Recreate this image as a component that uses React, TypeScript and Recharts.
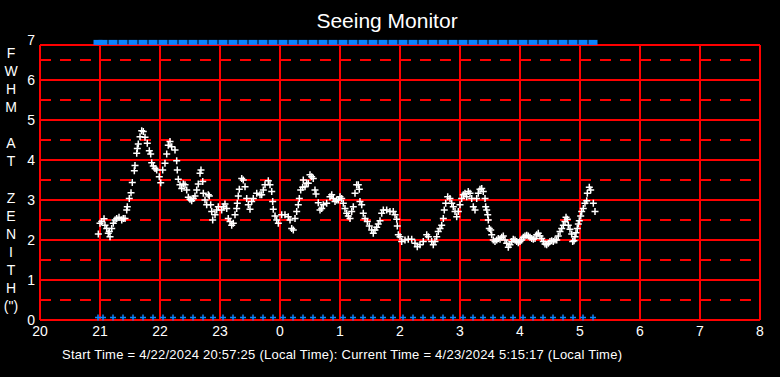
import React from 'react';
import { ScatterChart, Scatter, XAxis, YAxis, ReferenceLine } from 'recharts';

// hours on a running clock (after midnight = 24 + h)
const xTicks = [20, 21, 22, 23, 24, 25, 26, 27, 28, 29, 30, 31, 32];
const yTicks = [0, 1, 2, 3, 4, 5, 6, 7];
const hourLines = [21, 22, 23, 24, 25, 26, 27, 28, 29, 30, 31];
const solidRows = [1, 2, 3, 4, 5, 6];
const dashedRows = [0.5, 1.5, 2.5, 3.5, 4.5, 5.5, 6.5];
const frameTop = 6.875;
const topMarkerLevel = 6.94;
const bottomMarkerLevel = 0.06;

const yLabelLetters = ['F', 'W', 'H', 'M', '', 'A', 'T', '', 'Z', 'E', 'N', 'I', 'T', 'H', '(")'];

// sample times (local clock) of the blue status markers
const markerTimes = [
  '20:58', '21:03', '21:13', '21:23', '21:33', '21:43', '21:53',
  '22:03', '22:13', '22:23', '22:33', '22:43', '22:53',
  '23:03', '23:13', '23:23', '23:33', '23:43', '23:53',
  '00:03', '00:13', '00:23', '00:33', '00:43', '00:53',
  '01:03', '01:13', '01:23', '01:33', '01:43', '01:53',
  '02:03', '02:13', '02:23', '02:33', '02:43', '02:53',
  '03:03', '03:13', '03:23', '03:33', '03:43', '03:53',
  '04:03', '04:13', '04:23', '04:33', '04:43', '04:53',
  '05:03', '05:13',
];

// [hour, FWHM arcsec]
const seeingPoints: [number, number][] = [
  [20.972, 2.15], [21.0, 2.42], [21.028, 2.46], [21.067, 2.53], [21.083, 2.37], [21.112, 2.29], [21.138, 2.17], [21.155, 2.21], [21.167, 2.08], [21.195, 2.29],
  [21.222, 2.42], [21.25, 2.5], [21.278, 2.54], [21.317, 2.57], [21.362, 2.5], [21.388, 2.54], [21.417, 2.54], [21.445, 2.75], [21.455, 2.83], [21.488, 3.04],
  [21.517, 3.18], [21.538, 3.44], [21.572, 3.73], [21.583, 3.86], [21.612, 4.17], [21.622, 4.29], [21.638, 4.4], [21.667, 4.58], [21.695, 4.73], [21.722, 4.71],
  [21.75, 4.57], [21.788, 4.42], [21.822, 4.23], [21.845, 4.15], [21.862, 3.93], [21.888, 3.85], [21.917, 3.79], [21.945, 3.75], [21.988, 3.58], [22.012, 3.43],
  [22.045, 3.75], [22.083, 3.92], [22.112, 4.15], [22.138, 4.37], [22.167, 4.46], [22.195, 4.33], [22.25, 4.25], [22.278, 3.98], [22.288, 3.75], [22.305, 3.52],
  [22.333, 3.38], [22.362, 3.29], [22.388, 3.4], [22.417, 3.38], [22.445, 3.25], [22.472, 3.07], [22.5, 3.02], [22.528, 2.98], [22.555, 3.04], [22.583, 3.1],
  [22.612, 3.25], [22.638, 3.4], [22.667, 3.67], [22.683, 3.75], [22.712, 3.46], [22.722, 3.17], [22.75, 3.0], [22.778, 2.88], [22.805, 3.13], [22.822, 3.1],
  [22.845, 2.88], [22.862, 2.71], [22.878, 2.5], [22.917, 2.63], [22.945, 2.75], [22.972, 2.83], [23.028, 2.75], [23.055, 2.83], [23.083, 2.9], [23.112, 2.79],
  [23.138, 2.54], [23.167, 2.46], [23.195, 2.37], [23.222, 2.42], [23.25, 2.63], [23.278, 2.79], [23.288, 2.92], [23.305, 3.1], [23.322, 3.27], [23.362, 3.54],
  [23.388, 3.5], [23.417, 3.33], [23.445, 3.04], [23.472, 2.88], [23.5, 2.77], [23.528, 2.96], [23.555, 3.04], [23.612, 3.17], [23.667, 3.13], [23.695, 3.13],
  [23.722, 3.25], [23.75, 3.38], [23.805, 3.48], [23.833, 3.38], [23.862, 3.21], [23.878, 2.96], [23.888, 2.77], [23.917, 2.6], [23.945, 2.5], [23.972, 2.42],
  [24.028, 2.63], [24.083, 2.63], [24.138, 2.58], [24.167, 2.5], [24.195, 2.29], [24.222, 2.25], [24.25, 2.54], [24.278, 2.71], [24.305, 2.88], [24.322, 3.04],
  [24.345, 3.25], [24.378, 3.32], [24.388, 3.5], [24.417, 3.33], [24.445, 3.42], [24.472, 3.42], [24.5, 3.63], [24.528, 3.58], [24.555, 3.54], [24.583, 3.25],
  [24.6, 3.15], [24.638, 2.93], [24.667, 2.75], [24.695, 2.79], [24.722, 2.88], [24.778, 2.92], [24.833, 3.08], [24.862, 3.13], [24.888, 3.04], [24.917, 2.96],
  [24.945, 3.0], [24.972, 3.0], [25.0, 3.08], [25.028, 3.04], [25.055, 2.92], [25.083, 2.79], [25.112, 2.67], [25.138, 2.6], [25.167, 2.54], [25.195, 2.71],
  [25.222, 2.83], [25.25, 3.17], [25.278, 3.38], [25.305, 3.38], [25.322, 3.27], [25.333, 2.96], [25.362, 2.88], [25.388, 2.67], [25.417, 2.54], [25.455, 2.46],
  [25.488, 2.35], [25.528, 2.25], [25.555, 2.17], [25.583, 2.25], [25.612, 2.32], [25.638, 2.4], [25.667, 2.48], [25.695, 2.67], [25.722, 2.75], [25.778, 2.75],
  [25.833, 2.71], [25.888, 2.71], [25.917, 2.63], [25.945, 2.52], [25.955, 2.35], [25.972, 2.13], [26.0, 2.08], [26.028, 1.96], [26.083, 2.0], [26.138, 2.02],
  [26.195, 2.02], [26.25, 1.92], [26.288, 1.83], [26.333, 1.88], [26.388, 1.96], [26.445, 2.13], [26.472, 2.08], [26.528, 1.96], [26.555, 1.88], [26.583, 1.96],
  [26.612, 2.08], [26.638, 2.21], [26.667, 2.29], [26.695, 2.37], [26.722, 2.54], [26.738, 2.75], [26.762, 2.92], [26.795, 3.08], [26.833, 3.04], [26.862, 2.92],
  [26.888, 2.83], [26.917, 2.71], [26.945, 2.58], [26.972, 2.71], [27.0, 2.88], [27.028, 3.04], [27.055, 3.13], [27.083, 3.17], [27.112, 3.08], [27.138, 3.21],
  [27.167, 3.17], [27.195, 3.04], [27.222, 2.83], [27.25, 2.75], [27.278, 3.04], [27.305, 3.17], [27.333, 3.27], [27.362, 3.29], [27.388, 3.21], [27.417, 3.04],
  [27.428, 2.83], [27.445, 2.75], [27.462, 2.63], [27.472, 2.5], [27.488, 2.29], [27.512, 2.25], [27.528, 2.13], [27.555, 2.0], [27.583, 1.96], [27.612, 2.0],
  [27.638, 2.04], [27.667, 2.02], [27.695, 2.07], [27.722, 2.1], [27.75, 2.0], [27.778, 1.92], [27.805, 1.82], [27.833, 1.88], [27.862, 1.96], [27.888, 2.02],
  [27.917, 2.0], [27.945, 1.96], [27.972, 1.93], [28.0, 1.96], [28.028, 2.0], [28.055, 2.07], [28.083, 2.1], [28.112, 2.12], [28.138, 2.1], [28.167, 2.07],
  [28.195, 2.04], [28.222, 2.02], [28.25, 2.04], [28.278, 2.13], [28.305, 2.17], [28.333, 2.1], [28.362, 2.04], [28.388, 1.96], [28.417, 1.9], [28.445, 1.88],
  [28.472, 1.92], [28.5, 1.96], [28.528, 1.98], [28.555, 1.96], [28.583, 2.0], [28.612, 2.0], [28.638, 2.1], [28.667, 2.21], [28.695, 2.29], [28.722, 2.37],
  [28.75, 2.46], [28.767, 2.57], [28.788, 2.52], [28.805, 2.37], [28.833, 2.27], [28.862, 2.15], [28.878, 1.96], [28.9, 1.98], [28.917, 2.08], [28.933, 2.18],
  [28.955, 2.29], [28.972, 2.4], [28.988, 2.48], [29.012, 2.6], [29.028, 2.71], [29.055, 2.79], [29.083, 2.92], [29.112, 2.98], [29.122, 3.17], [29.155, 3.32],
  [29.178, 3.25], [29.222, 2.92], [29.25, 2.71],
];

const toHour = (t: string) => {
  const [h, m] = t.split(':').map(Number);
  return (h < 12 ? h + 24 : h) + m / 60;
};

const seeingData = seeingPoints.map(([x, y]) => ({ x, y }));
const topMarkers = markerTimes.map((t) => ({ x: toHour(t), y: topMarkerLevel }));
const bottomMarkers = markerTimes.map((t) => ({ x: toHour(t), y: bottomMarkerLevel }));

const RED = '#ff0000';
const BLUE = '#0a84ff';
const FONT = '"Liberation Sans", Arial, sans-serif';

const WhitePlus = (props: any) => {
  const { cx, cy } = props;
  return (
    <path
      d={`M${cx - 3.5},${cy}H${cx + 3.5}M${cx},${cy - 3.5}V${cy + 3.5}`}
      stroke="#fff"
      strokeWidth={1.5}
      fill="none"
    />
  );
};

const BluePlus = (props: any) => {
  const { cx, cy } = props;
  return (
    <path
      d={`M${cx - 3},${cy}H${cx + 3}M${cx},${cy - 3}V${cy + 3}`}
      stroke={BLUE}
      strokeWidth={1.5}
      fill="none"
    />
  );
};

const BlueBlock = (props: any) => {
  const { cx, cy } = props;
  return <rect x={cx - 4.5} y={cy - 2.5} width={9} height={5} fill={BLUE} />;
};

const App = () => {
  return (
    <div style={{ position: 'relative', width: 780, height: 377, background: '#000' }}>
      <style>{'body{margin:0;background:#000}'}</style>
      <ScatterChart width={780} height={377} margin={{ top: 40, right: 20, bottom: 27, left: 0 }}>
        <XAxis
          type="number"
          dataKey="x"
          domain={[20, 32]}
          ticks={xTicks}
          tickFormatter={(v: number) => String(v % 24)}
          axisLine={false}
          tickLine={false}
          tickSize={0}
          tickMargin={6}
          height={30}
          tick={{ fill: '#fff', fontSize: 14, fontFamily: FONT }}
        />
        <YAxis
          type="number"
          dataKey="y"
          domain={[0, 7]}
          ticks={yTicks}
          axisLine={false}
          tickLine={false}
          tickSize={0}
          tickMargin={5}
          width={40}
          tick={{ fill: '#fff', fontSize: 14, fontFamily: FONT }}
        />
        {dashedRows.map((v) => (
          <ReferenceLine key={'d' + v} y={v} stroke={RED} strokeWidth={2} strokeDasharray="11 9" />
        ))}
        {solidRows.map((v) => (
          <ReferenceLine key={'s' + v} y={v} stroke={RED} strokeWidth={2} />
        ))}
        {hourLines.map((h) => (
          <ReferenceLine
            key={'h' + h}
            segment={[{ x: h, y: 0 }, { x: h, y: frameTop }]}
            stroke={RED}
            strokeWidth={2}
          />
        ))}
        <ReferenceLine segment={[{ x: 20, y: 0 }, { x: 32, y: 0 }]} stroke={RED} strokeWidth={2} />
        <ReferenceLine segment={[{ x: 20, y: frameTop }, { x: 32, y: frameTop }]} stroke={RED} strokeWidth={2} />
        <ReferenceLine segment={[{ x: 20, y: 0 }, { x: 20, y: frameTop }]} stroke={RED} strokeWidth={2} />
        <ReferenceLine segment={[{ x: 32, y: 0 }, { x: 32, y: frameTop }]} stroke={RED} strokeWidth={2} />
        <Scatter data={topMarkers} shape={BlueBlock} isAnimationActive={false} />
        <Scatter data={bottomMarkers} shape={BluePlus} isAnimationActive={false} />
        <Scatter data={seeingData} shape={WhitePlus} isAnimationActive={false} />
      </ScatterChart>
      <svg
        width={780}
        height={377}
        style={{ position: 'absolute', left: 0, top: 0, pointerEvents: 'none' }}
      >
        <text x={387} y={28} textAnchor="middle" fill="#fff" fontSize={21} fontFamily={FONT}>
          Seeing Monitor
        </text>
        {yLabelLetters.map((c, i) => (
          <text key={i} x={11} y={58 + i * 18.07} textAnchor="middle" fill="#fff" fontSize={14} fontFamily={FONT}>
            {c}
          </text>
        ))}
        <text
          x={62}
          y={359}
          fill="#fff"
          fontSize={13}
          fontFamily={FONT}
          textLength={560}
          lengthAdjust="spacing"
        >
          Start Time = 4/22/2024 20:57:25 (Local Time): Current Time = 4/23/2024 5:15:17 (Local Time)
        </text>
      </svg>
    </div>
  );
};

export default App;
